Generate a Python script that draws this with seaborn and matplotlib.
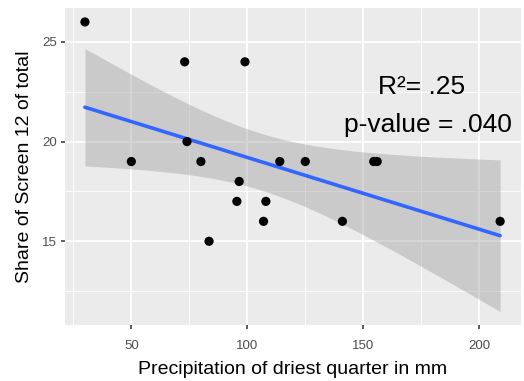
import numpy as np
import pandas as pd
import matplotlib
matplotlib.use("Agg")
import matplotlib.pyplot as plt
import seaborn as sns

# Data
precip = [30, 50, 73, 74, 80, 83.5, 95.5, 96.5, 99, 107, 108, 114, 125, 141, 154.5, 156, 209]
share = [26, 19, 24, 20, 19, 15, 17, 18, 24, 16, 17, 19, 19, 16, 19, 19, 16]
x_ticks = [50, 100, 150, 200]
y_ticks = [15, 20, 25]
annot_r2 = "R²= .25"
annot_p = "p-value = .040"

df = pd.DataFrame({"precip": precip, "share": share})

sns.set_theme(style="darkgrid")
plt.rcParams['font.family'] = ['Liberation Sans', 'DejaVu Sans']

fig = plt.figure(figsize=(5.24, 3.81), dpi=100)
ax = fig.add_axes([65 / 524, 1 - 325 / 381, (521 - 65) / 524, (325 - 8) / 381])
ax.set_facecolor("#EBEBEB")

# analytic 95% CI band (as ggplot geom_smooth(method='lm'))
x = np.asarray(precip, float)
y = np.asarray(share, float)
n = len(x)
b1, b0 = np.polyfit(x, y, 1)
xs = np.linspace(x.min(), x.max(), 200)
yhat = b0 + b1 * xs
resid = y - (b0 + b1 * x)
s = np.sqrt(np.sum(resid ** 2) / (n - 2))
# t quantile 0.975, df=15
tq = 2.131449546
se = s * np.sqrt(1 / n + (xs - x.mean()) ** 2 / np.sum((x - x.mean()) ** 2))
ax.fill_between(xs, yhat - tq * se, yhat + tq * se, color="#999999", alpha=0.4, lw=0, zorder=2)

sns.regplot(data=df, x="precip", y="share", ci=None, ax=ax,
            scatter=False, line_kws=dict(color="#3366FF", lw=2.6, zorder=3))
sns.scatterplot(data=df, x="precip", y="share", ax=ax, color="black", s=44,
                edgecolor="none", zorder=4)

ax.set_xlim(21.4, 218.0)
ax.set_ylim(10.8, 26.7)
ax.set_xticks(x_ticks)
ax.set_yticks(y_ticks)
ax.set_xticks([25, 75, 125, 175], minor=True)
ax.set_yticks([12.5, 17.5, 22.5], minor=True)
ax.grid(which="major", color="white", lw=1.3)
ax.grid(which="minor", color="white", lw=0.6)
for sp in ax.spines.values():
    sp.set_visible(False)
ax.tick_params(which="major", length=3, width=1.1, color="#333333",
               labelsize=9.5, labelcolor="#4D4D4D", pad=3, bottom=True, left=True)
ax.tick_params(axis="x", which="major", pad=8)
ax.tick_params(which="minor", length=0)

ax.set_xlabel("Precipitation of driest quarter in mm", fontsize=14, color="black", labelpad=6)
ax.set_ylabel("Share of Screen 12 of total", fontsize=14, color="black", labelpad=6)

ax.text(175, 22.75, annot_r2, fontsize=19, ha="center", va="center", color="black", zorder=5)
ax.text(178, 20.85, annot_p, fontsize=19, ha="center", va="center", color="black", zorder=5)

fig.savefig("out.png", dpi=100)
